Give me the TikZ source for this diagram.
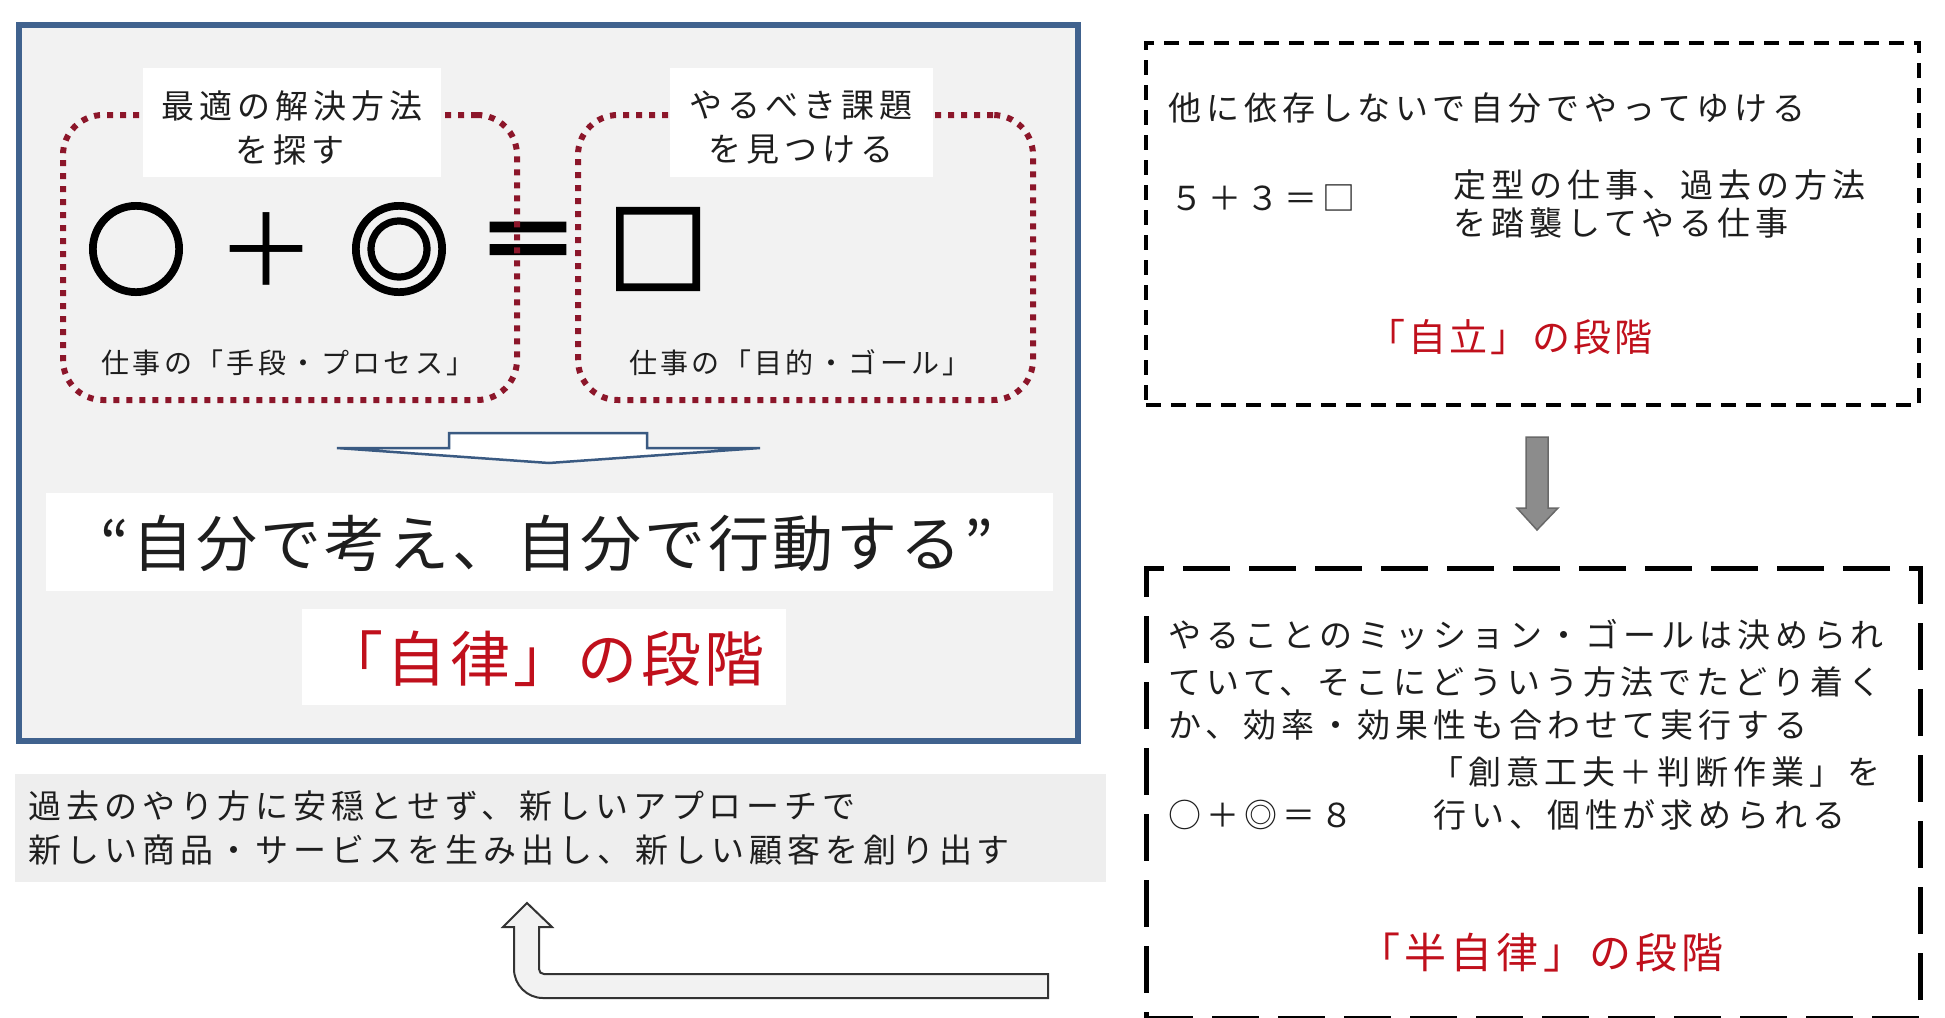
\documentclass[tikz,border=0pt]{standalone}
\usepackage{fontspec}
\setmainfont{Noto Sans CJK JP}
\newfontfamily\symfont{Noto Sans CJK JP}[FakeBold=4]
\definecolor{txt}{RGB}{30,30,30}
\definecolor{panelblue}{RGB}{64,98,142}
\definecolor{panelfill}{RGB}{242,242,242}
\definecolor{dotred}{RGB}{140,22,42}
\definecolor{stagered}{RGB}{192,16,28}
\definecolor{grayfill}{RGB}{238,238,238}
\definecolor{arrowgray}{RGB}{140,140,140}
\definecolor{arrowline}{RGB}{105,105,105}
\definecolor{flatblue}{RGB}{58,90,130}
\newcommand\jfs[2]{\fontsize{#1}{#1}\selectfont\addfontfeatures{LetterSpace=#2}}
\begin{document}
\begin{tikzpicture}[x=1pt,y=-1pt,
  box/.style={inner sep=0pt, outer sep=0pt, anchor=north west},
  panelbox/.style={box, draw=panelblue, line width=6.5pt, fill=panelfill},
  dotbox/.style={box, draw=dotred, line width=6pt, dash pattern=on 6pt off 7pt, rounded corners=40pt},
  whitebox/.style={box, fill=white},
  graybox/.style={box, fill=grayfill},
  dashthin/.style={box, draw=black, line width=3.5pt, dash pattern=on 15pt off 10pt},
  dashthick/.style={box, draw=black, line width=5pt, dash pattern=on 47pt off 19pt},
  body/.style={inner sep=0pt, text=txt, font=\jfs{33}{15}},
  bodyw/.style={body, anchor=west},
  small/.style={inner sep=0pt, text=txt, font=\jfs{28}{12}},
  sym/.style={inner sep=0pt, text=black, font=\symfont\jfs{100}{0}},
  symthin/.style={inner sep=0pt, text=black, font=\jfs{100}{0}},
  stage/.style={inner sep=0pt, text=stagered},
  flatarrow/.style={draw=flatblue, line width=2.5pt, fill=white, line join=miter},
  uarrow/.style={draw=black!80, line width=2pt, fill=panelfill, line join=miter},
  grayarrow/.style={draw=arrowline, line width=1.5pt, fill=arrowgray}
]
\useasboundingbox (0,0) rectangle (1945,1017);
\fill[white] (0,0) rectangle (1945,1017);

% ---------- left panel ----------
\node[panelbox, minimum width=1059pt, minimum height=716pt] (panel) at (19,25) {};

\node[sym] (s1) at (136,249) {○};
\node[symthin] (s2) at (266,250) {＋};
\node[sym] (s3) at (399,249) {◎};
\node[sym] (s4) at (528,250) {＝};
\node[sym] (s5) at (658,249) {□};

\node[dotbox, minimum width=454pt, minimum height=285pt] (procbox) at (63,115) {};
\node[dotbox, minimum width=455pt, minimum height=285pt] (goalbox) at (578,115) {};

\node[whitebox, minimum width=298pt, minimum height=109pt] (lbl1) at (143,68) {};
\node[whitebox, minimum width=263pt, minimum height=109pt] (lbl2) at (670,68) {};
\node[body] (l1a) at (292,106) {最適の解決方法};
\node[body] (l1b) at (290,150) {を探す};
\node[body] (l2a) at (801,106) {やるべき課題};
\node[body] (l2b) at (801,150) {を見つける};

\node[small] (proc) at (288,363) {仕事の「手段・プロセス」};
\node[small] (goal) at (800,363) {仕事の「目的・ゴール」};

\draw[flatarrow] (449,433) -- (647,433) -- (647,448) -- (760,448) -- (549,463)
  -- (337,448) -- (449,448) -- cycle;

\node[whitebox, minimum width=1007pt, minimum height=98pt] (quotebox) at (46,493) {};
\node[inner sep=0pt, text=txt, font=\jfs{61}{5}] (quote) at (547,543) {“自分で考え、自分で行動する”};

\node[whitebox, minimum width=484pt, minimum height=96pt] (stagebox) at (302,609) {};
\node[stage, font=\jfs{60}{6}] (jiritsu) at (544,659) {「自律」の段階};

% ---------- new approach box ----------
\node[graybox, minimum width=1091pt, minimum height=108pt] (newbox) at (15,774) {};
\node[bodyw] (n1) at (28,806) {過去のやり方に安穏とせず、新しいアプローチで};
\node[bodyw] (n2) at (28,850) {新しい商品・サービスを生み出し、新しい顧客を創り出す};

% ---------- U-turn arrow ----------
\draw[uarrow] (527,903) -- (552,927) -- (539,927) -- (539,969)
  .. controls (539,972) and (541,974) .. (544,974) -- (1048,974) -- (1048,998)
  -- (543,998) .. controls (527,998) and (514,985) .. (514,969)
  -- (514,927) -- (503,927) -- cycle;

% ---------- right: self-reliance ----------
\node[dashthin, minimum width=773pt, minimum height=362pt] (selfbox) at (1146,43) {};
\node[bodyw] (r1) at (1168,108) {他に依存しないで自分でやってゆける};
\node[bodyw] (r2) at (1170,198) {５＋３＝□};
\node[bodyw] (r3) at (1453,185) {定型の仕事、過去の方法};
\node[bodyw] (r4) at (1453,223) {を踏襲してやる仕事};
\node[stage, font=\jfs{38}{8}] (jiritsu2) at (1510,337) {「自立」の段階};

\draw[grayarrow] (1526,437) -- (1548,437) -- (1548,508) -- (1558,508) -- (1537,530)
  -- (1517,508) -- (1526,508) -- cycle;

% ---------- right: semi-autonomy ----------
\node[dashthick, minimum width=774pt, minimum height=450pt] (semibox) at (1146,568) {};
\node[bodyw] (b1) at (1168,635) {やることのミッション・ゴールは決められ};
\node[bodyw] (b2) at (1168,682) {ていて、そこにどういう方法でたどり着く};
\node[bodyw] (b3) at (1168,725) {か、効率・効果性も合わせて実行する};
\node[bodyw] (b4) at (1430,772) {「創意工夫＋判断作業」を};
\node[bodyw] (b5) at (1168,815) {○＋◎＝８};
\node[bodyw] (b6) at (1433,815) {行い、個性が求められる};
\node[stage, font=\jfs{42}{10}] (hanjiritsu) at (1541,953) {「半自律」の段階};
\end{tikzpicture}
\end{document}
